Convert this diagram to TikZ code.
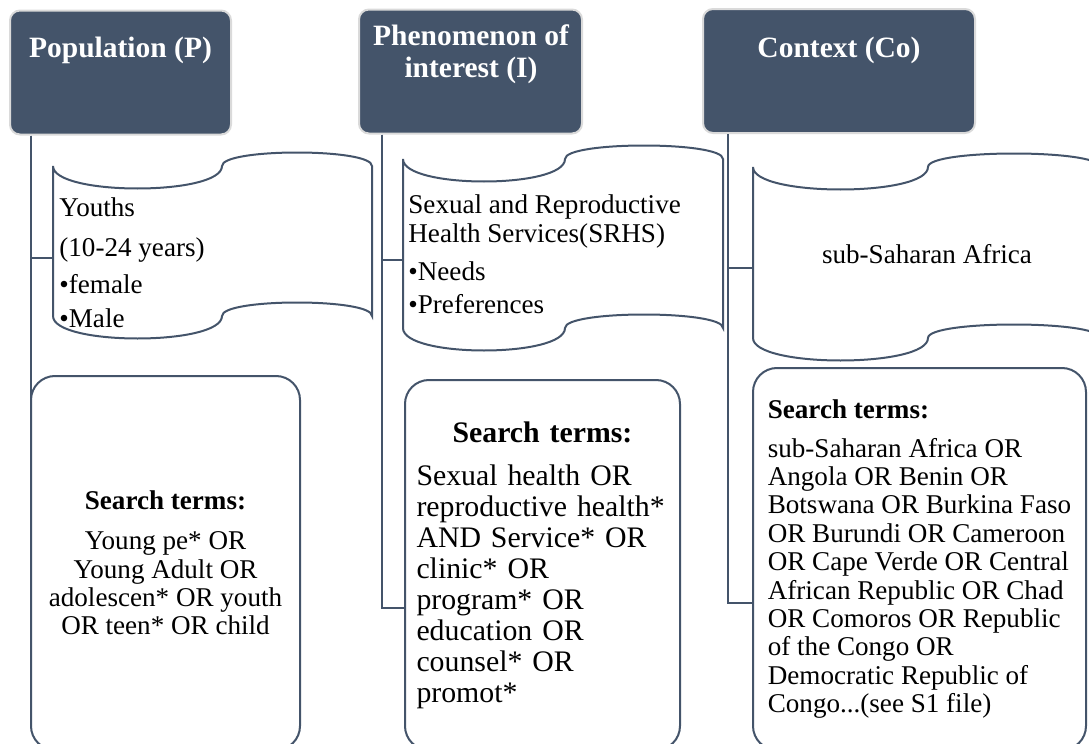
\documentclass[tikz,border=0pt]{standalone}
\usepackage{fontspec}
\setmainfont{Liberation Serif}
\usepackage{xcolor}
\usepackage{tikz}
\definecolor{hdrblue}{HTML}{44546A}
\definecolor{hdredge}{HTML}{DADADA}

\begin{document}
\begin{tikzpicture}[x=0.5pt,y=-0.5pt,
	hdr/.style={rectangle,rounded corners=5pt,fill=hdrblue,draw=hdredge,line width=1pt,minimum height=62pt},
	hdrtext/.style={inner sep=0pt,text=white,font=\fontsize{14.75pt}{16pt}\selectfont\bfseries},
	wave/.style={draw=hdrblue,fill=white,line width=1pt},
	scrolltext/.style={inner sep=0pt,align=left,font=\fontsize{13.55pt}{14.2pt}\selectfont},
	terms/.style={rectangle,rounded corners=12pt,draw=hdrblue,fill=white,line width=1pt,font=\fontsize{13.55pt}{14.2pt}\selectfont},
	conn/.style={draw=hdrblue,line width=1pt}]
	\useasboundingbox (0,0) rectangle (1089,744);
	\node[hdr,minimum width=110.5pt] at (120.5,72.5) (pop) {};
	\node[hdr,minimum width=111.5pt] at (470.5,71.5) (phen) {};
	\node[hdr,minimum width=136pt] at (839,71) (ctx) {};
	\node[hdrtext,anchor=base] at (120.5,57) (poptext) {Population (P)};
	\node[hdrtext,anchor=north,align=center] at (471,24) (phentext) {Phenomenon of\\interest (I)};
	\node[hdrtext,anchor=base] at (839,57) (ctxtext) {Context (Co)};
	\node[terms,minimum width=134.5pt,minimum height=187pt,align=center] at (165.5,563) (popterms) {\textbf{Search terms:}\\[5.8pt]Young pe* OR\\Young Adult OR\\adolescen* OR youth\\OR teen* OR child};
	\node[terms,minimum width=137.5pt,minimum height=185pt,text width=126pt,align=left,font=\fontsize{14.9pt}{15.5pt}\selectfont] at (542.5,565) (phenterms) {\makebox[\hsize]{\textbf{Search terms:}}\\[6pt]Sexual health OR\\reproductive health*\\AND Service* OR\\clinic* OR\\program* OR\\education OR\\counsel* OR\\promot*};
	\node[terms,minimum width=166.5pt,minimum height=191pt,align=left] at (919.5,559) (ctxterms) {\textbf{Search terms:}\\[5.3pt]sub-Saharan Africa OR\\Angola OR Benin OR\\Botswana OR Burkina Faso\\OR Burundi OR Cameroon\\OR Cape Verde OR Central\\African Republic OR Chad\\OR Comoros OR Republic\\of the Congo OR\\Democratic Republic of\\Congo...(see S1 file)};
	\foreach \l/\m/\r/\t/\b in {53/222/372/166/316, 403/565/723/159/328, 753/928/1100/167/338}
		\draw[wave] (\l,\t) .. controls (\l,\t+30) and (\m,\t+30) .. (\m,\t) .. controls (\m,\t-18) and (\r,\t-18) .. (\r,\t) -- (\r,\b) .. controls (\r,\b-18) and (\m,\b-18) .. (\m,\b) .. controls (\m,\b+30) and (\l,\b+30) .. (\l,\b) -- cycle;
	\node[scrolltext,anchor=north west] at (59,197.5) (youth) {Youths\\[5.8pt](10-24 years)\\[4.3pt]•female\\[2.8pt]•Male};
	\node[scrolltext,anchor=north west] at (408,194.5) (srhs) {Sexual and Reproductive\\Health Services(SRHS)\\[4.8pt]•Needs\\[2.3pt]•Preferences};
	\node[scrolltext,anchor=base] at (927,263) (ssa) {sub-Saharan Africa};
	\coordinate (youthin) at (53,258);
	\coordinate (srhsin) at (403,260);
	\coordinate (ssain) at (753,268);
	\draw[conn] ([xshift=11pt]pop.south west) |- (youthin);
	\draw[conn] ([xshift=11pt]pop.south west) |- (popterms.west);
	\draw[conn] ([xshift=12pt]phen.south west) |- (srhsin);
	\draw[conn] ([xshift=12pt]phen.south west) |- ([yshift=-21.5pt]phenterms.west);
	\draw[conn] ([xshift=13pt]ctx.south west) |- (ssain);
	\draw[conn] ([xshift=13pt]ctx.south west) |- ([yshift=-22pt]ctxterms.west);
\end{tikzpicture}
\end{document}
